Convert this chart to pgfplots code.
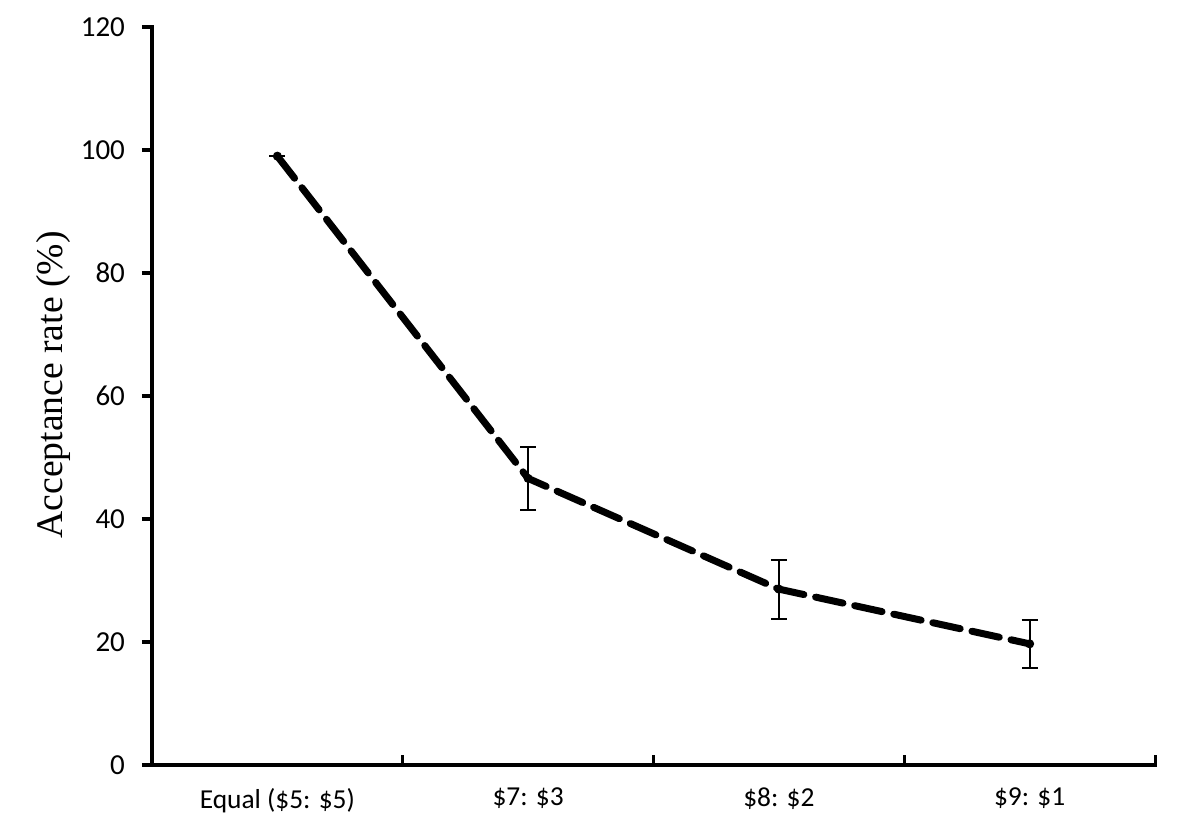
\documentclass[border=0pt]{standalone}
\usepackage{fontspec}
\setmainfont{Carlito}
\newfontfamily\serifone{Liberation Serif}
\usepackage{pgfplots}
\pgfplotsset{compat=1.18}
\begin{document}
\begin{tikzpicture}
\begin{axis}[
  scale only axis,
  width=501.5pt, height=369pt,
  xmin=-0.5, xmax=3.5, ymin=0, ymax=120,
  axis x line*=bottom, axis y line*=left,
  axis line style={line width=2pt, line cap=rect},
  xtick={0,1,2,3},
  xticklabels={Equal (\$5: \$5), \$7: \$3, \$8: \$2, \$9: \$1},
  major x tick style={draw=none},
  minor xtick={0.5,1.5,2.5,3.5},
  minor tick length=5pt,
  minor x tick style={line width=1.5pt, black},
  xtick align=inside,
  ytick={0,20,...,120},
  ytick align=outside,
  major tick length=5pt,
  ytick style={line width=2pt, black},
  xticklabel style={font=\fontsize{13.7}{15}\selectfont, yshift=-8pt},
  yticklabel style={font=\fontsize{14.5}{16}\selectfont, xshift=-5pt},
  /pgf/number format/assume math mode=true,
  ylabel={\serifone\fontsize{18.8}{20}\selectfont Acceptance rate (\%)},
  ylabel style={at={(ticklabel cs:0.515,-1.5pt)}},
  clip=false,
]
\addplot+[black, line width=3.5pt, dash pattern=on 14pt off 6pt, line cap=round,
  mark=*, mark size=2pt, mark options={solid, black, line width=0.5pt},
  error bars/.cd, y dir=both, y explicit,
  error bar style={line width=1pt, solid, line cap=butt},
  error mark options={rotate=90, mark size=4pt, line width=1pt, solid}]
  coordinates {
  (0,99) +- (0,0)
  (1,46.6) +- (0,5.1)
  (2,28.6) +- (0,4.8)
  (3,19.7) +- (0,3.85)
  };
\path (rel axis cs:0,0) ++(-76pt,-33pt) coordinate (bbA);
\path (rel axis cs:1,1) ++(13pt,13.5pt) coordinate (bbB);
\path (bbA) rectangle (bbB);
\end{axis}
\end{tikzpicture}
\end{document}
